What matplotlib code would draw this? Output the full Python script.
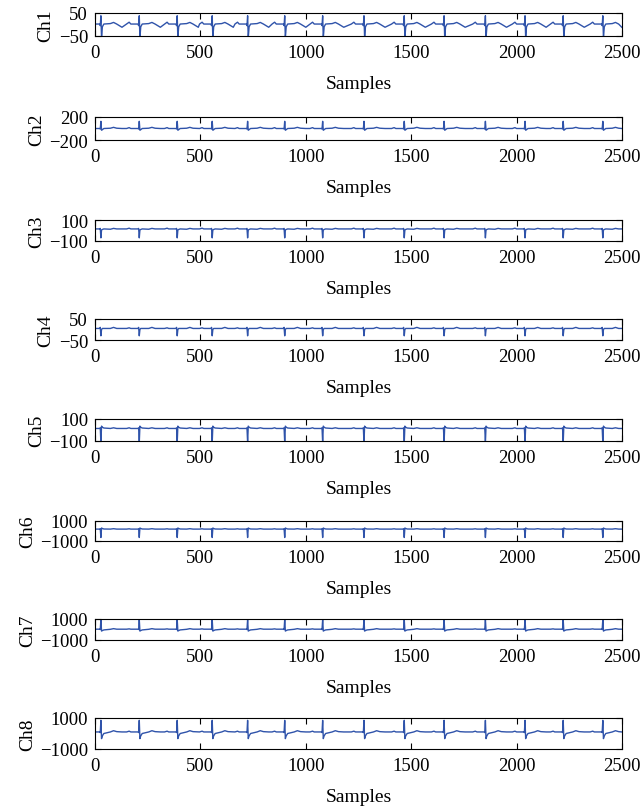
import numpy as np
import matplotlib.pyplot as plt

plt.rcParams['font.family'] = ['Liberation Serif', 'DejaVu Serif']
plt.rcParams['axes.unicode_minus'] = True

n_samples = 2500
channels = ["Ch1", "Ch2", "Ch3", "Ch4", "Ch5", "Ch6", "Ch7", "Ch8"]
y_limits = [50, 200, 100, 50, 100, 1000, 1000, 1000]

# R-peak locations (sample index), common to all leads
beat_samples = [28, 210, 390, 556, 724, 900, 1080, 1276, 1467, 1656, 1852, 2040, 2221, 2409]

# beat shape: sample offsets from the R peak and per-lead values at those offsets
beat_offsets = [-60, -48, -40, -6, -3, 0, 3, 7, 14, 45, 60, 75, 100]
ch1_beat = [2, 10, 2, 2, -5, 38, -58, -10, 2, 4, 9, 2, -12]
ch2_beat = [0, 15, 0, 0, -10, 125, -30, -20, 0, 5, 20, 5, 0]
ch3_beat = [15, 22, 15, 15, 20, -70, 5, 10, 15, 12, 20, 15, 15]
ch4_beat = [5, 8, 5, 5, 10, -30, 0, 5, 5, 5, 10, 5, 5]
ch5_beat = [14, 20, 14, 14, 20, -115, 35, 25, 18, 14, 20, 14, 14]
ch6_beat = [190, 220, 190, 190, 230, -650, 300, 250, 200, 190, 230, 190, 190]
ch7_beat = [30, 60, 30, 30, 0, 950, -150, -100, -40, 20, 80, 30, 30]
ch8_beat = [100, 150, 100, 100, 60, 850, -330, -150, 0, 100, 180, 120, 100]
beats = [ch1_beat, ch2_beat, ch3_beat, ch4_beat, ch5_beat, ch6_beat, ch7_beat, ch8_beat]

# axes boxes in pixels (top, bottom)
boxes = [(14, 37), (118, 141), (221, 242), (320, 341), (420, 442), (522, 542), (620, 641), (719, 750)]

W, H = 643, 812
fig = plt.figure(figsize=(W / 100, H / 100), dpi=100)
color = "#2f53aa"

for name, lim, beat, (top, bot) in zip(channels, y_limits, beats, boxes):
    ax = fig.add_axes([95 / W, 1 - bot / H, 527 / W, (bot - top) / H])
    xs = [0]
    ys = [beat[0]]
    for b in beat_samples:
        for off, v in zip(beat_offsets, beat):
            s = b + off
            if xs[-1] < s < n_samples:
                xs.append(s)
                ys.append(v)
    xs.append(n_samples - 1)
    ys.append(beat[-1])
    ax.plot(xs, ys, color=color, lw=1.0)
    ax.set_xlim(0, n_samples)
    ax.set_ylim(-lim, lim)
    ax.set_xticks(np.arange(0, 2501, 500))
    ax.set_yticks([-lim, lim])
    ax.tick_params(direction='in', top=True, right=True, length=4, labelsize=13.5)
    ax.tick_params(axis='x', pad=6)
    ax.tick_params(axis='y', pad=5)
    ax.set_xlabel("Samples", fontsize=14, labelpad=10)
    ax.set_ylabel(name, fontsize=14, labelpad=3)
    for sp in ax.spines.values():
        sp.set_linewidth(0.8)

fig.savefig("out.png", dpi=100)
